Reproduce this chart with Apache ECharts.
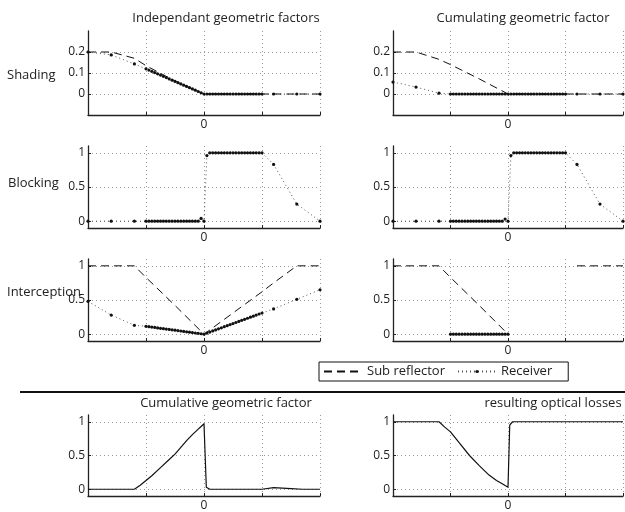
<!DOCTYPE html>
<html>
<head>
<meta charset="utf-8">
<script src="https://cdn.jsdelivr.net/npm/echarts@6/dist/echarts.min.js"></script>
<style>
  html, body { margin: 0; padding: 0; background: #fff; }
  #chart { width: 625px; height: 512px; }
</style>
</head>
<body>
<div id="chart"></div>
<script>
// sample positions of the receiver curves (sparse outside [-1,1])
const xPts = [-2, -1.6, -1.2,
  -1, -0.95, -0.9, -0.85, -0.8, -0.75, -0.7, -0.65, -0.6, -0.55, -0.5, -0.45, -0.4, -0.35, -0.3, -0.25, -0.2, -0.15, -0.1, -0.05, 0,
  0.05, 0.1, 0.15, 0.2, 0.25, 0.3, 0.35, 0.4, 0.45, 0.5, 0.55, 0.6, 0.65, 0.7, 0.75, 0.8, 0.85, 0.9, 0.95, 1,
  1.2, 1.6, 2];

const shadeRecvL = [0.2, 0.186, 0.143,
  0.12, 0.114, 0.108, 0.102, 0.096, 0.09, 0.084, 0.078, 0.072, 0.066, 0.06, 0.054, 0.048, 0.042, 0.036, 0.03, 0.024, 0.018, 0.012, 0.006, 0,
  0, 0, 0, 0, 0, 0, 0, 0, 0, 0, 0, 0, 0, 0, 0, 0, 0, 0, 0, 0,
  0, 0, 0];
const shadeRecvR = [0.057, 0.033, 0.004,
  0, 0, 0, 0, 0, 0, 0, 0, 0, 0, 0, 0, 0, 0, 0, 0, 0, 0, 0, 0, 0,
  0, 0, 0, 0, 0, 0, 0, 0, 0, 0, 0, 0, 0, 0, 0, 0, 0, 0, 0, 0,
  0, 0, 0];
const blockRecvL = [0, 0, 0,
  0, 0, 0, 0, 0, 0, 0, 0, 0, 0, 0, 0, 0, 0, 0, 0, 0, 0, 0, 0.04, 0,
  0.96, 1, 1, 1, 1, 1, 1, 1, 1, 1, 1, 1, 1, 1, 1, 1, 1, 1, 1, 1,
  0.83, 0.25, 0];
const blockRecvR = [0, 0, 0,
  0, 0, 0, 0, 0, 0, 0, 0, 0, 0, 0, 0, 0, 0, 0, 0, 0, 0, 0, 0.03, 0,
  0.96, 1, 1, 1, 1, 1, 1, 1, 1, 1, 1, 1, 1, 1, 1, 1, 1, 1, 1, 1,
  0.83, 0.25, 0];
const intRecvL = [0.48, 0.28, 0.13,
  0.115, 0.109, 0.104, 0.098, 0.092, 0.086, 0.081, 0.075, 0.069, 0.063, 0.058, 0.052, 0.046, 0.04, 0.035, 0.029, 0.023, 0.017, 0.012, 0.006, 0,
  0.016, 0.031, 0.047, 0.062, 0.078, 0.093, 0.109, 0.124, 0.14, 0.155, 0.171, 0.186, 0.202, 0.217, 0.233, 0.248, 0.264, 0.279, 0.295, 0.31,
  0.37, 0.51, 0.65];
const intRecvR = [null, null, null,
  0, 0, 0, 0, 0, 0, 0, 0, 0, 0, 0, 0, 0, 0, 0, 0, 0, 0, 0, 0, 0,
  null, null, null, null, null, null, null, null, null, null, null, null, null, null, null, null, null, null, null, null,
  null, null, null];

// sub reflector (dashed) curves
const subX = [-2, -1.6, -1.2, -1, -0.5, 0, 0.5, 1, 1.2, 1.6, 2];
const shadeSubL = [0.2, 0.2, 0.17, 0.135, 0.062, 0, 0, 0, 0, 0, 0];
const shadeSubR = [0.2, 0.2, 0.165, 0.14, 0.072, 0, 0, 0, 0, 0, 0];
const intSubL = [1, 1, 1, 0.83, 0.42, 0, 0.31, 0.62, 0.75, 1, 1];
const intSubR = [1, 1, 1, 0.83, 0.42, 0, null, null, 1, 1, 1];

// bottom row
const cumX = [-2, -1.2, -1.1, -1, -0.9, -0.75, -0.6, -0.5, -0.4, -0.3, -0.2, -0.1, -0.05, 0, 0.04, 0.1, 1, 1.2, 1.5, 1.7, 2];
const cumY = [0, 0, 0.06, 0.13, 0.2, 0.32, 0.44, 0.52, 0.62, 0.72, 0.81, 0.89, 0.93, 0.97, 0.03, 0, 0, 0.025, 0.01, 0, 0];
const lossX = [-2, -1.2, -1.1, -1, -0.85, -0.67, -0.5, -0.33, -0.2, -0.1, 0, 0.03, 0.08, 2];
const lossY = [1, 1, 0.92, 0.85, 0.69, 0.5, 0.35, 0.21, 0.13, 0.08, 0.03, 0.95, 1, 1];

const shadeTicks = [0, 0.1, 0.2];
const unitTicks = [0, 0.5, 1];
const xTicks = [-1, 0, 1, 2];
const xLabels = [0];

const font = '"Open Sans", "DejaVu Sans", sans-serif';
const pair = (xs, ys) => xs.map((x, i) => [x, ys[i]]);

const cols = [{ left: 88, width: 232 }, { left: 393, width: 230 }];
const rows = [
  { top: 31, height: 84, min: -0.1, max: 0.3, ticks: shadeTicks },
  { top: 146, height: 82, min: -0.1, max: 1.1, ticks: unitTicks },
  { top: 259, height: 82, min: -0.1, max: 1.1, ticks: unitTicks },
  { top: 415, height: 83, min: -0.1, max: 1.1, ticks: unitTicks }
];

const grid = [], xAxis = [], yAxis = [];
rows.forEach(r => {
  cols.forEach(c => {
    grid.push({ left: c.left, width: c.width, top: r.top, height: r.height });
    const i = grid.length - 1;
    xAxis.push({
      type: 'value', gridIndex: i, min: -2, max: 2,
      axisLine: { onZero: false, lineStyle: { color: '#222', width: 1.3 } },
      axisTick: { inside: true, length: 3, customValues: xTicks, lineStyle: { color: '#222' } },
      axisLabel: { customValues: xLabels, margin: 4, color: '#222', fontSize: 12, fontFamily: font },
      splitLine: { show: true, lineStyle: { color: '#999', width: 1, type: [1, 3] } }
    });
    yAxis.push({
      type: 'value', gridIndex: i, min: r.min, max: r.max,
      axisLine: { show: true, onZero: false, lineStyle: { color: '#222', width: 1.3 } },
      axisTick: { show: true, inside: true, length: 3, customValues: r.ticks, lineStyle: { color: '#222' } },
      axisLabel: { customValues: r.ticks, margin: 3, color: '#222', fontSize: 12, fontFamily: font },
      splitLine: { show: true, lineStyle: { color: '#999', width: 1, type: [1, 3] } }
    });
  });
});

function recv(i, ys) {
  return {
    type: 'line', name: 'Receiver', xAxisIndex: i, yAxisIndex: i,
    data: pair(xPts, ys), symbol: 'circle', symbolSize: 3.2, showSymbol: true,
    itemStyle: { color: '#111' },
    lineStyle: { color: '#555', width: 1, type: [1, 3] },
    animation: false, z: 3
  };
}
function sub(i, ys) {
  return {
    type: 'line', name: 'Sub reflector', xAxisIndex: i, yAxisIndex: i,
    data: pair(subX, ys), symbol: 'none',
    itemStyle: { color: '#111' },
    lineStyle: { color: '#111', width: 1, type: [8, 5] },
    animation: false, z: 2
  };
}
function solid(i, xs, ys) {
  return {
    type: 'line', xAxisIndex: i, yAxisIndex: i,
    data: pair(xs, ys), symbol: 'none',
    lineStyle: { color: '#111', width: 1.2 },
    animation: false
  };
}

const series = [
  sub(0, shadeSubL), recv(0, shadeRecvL),
  sub(1, shadeSubR), recv(1, shadeRecvR),
  recv(2, blockRecvL), recv(3, blockRecvR),
  sub(4, intSubL), recv(4, intRecvL),
  sub(5, intSubR), recv(5, intRecvR),
  solid(6, cumX, cumY), solid(7, lossX, lossY)
];

function txt(text, x, y, align) {
  return {
    type: 'text', x: x, y: y,
    style: { text: text, font: '13px ' + font, fill: '#222', textAlign: align || 'center', textVerticalAlign: 'middle' }
  };
}

const myChart = echarts.init(document.getElementById('chart'));
const option = {
  backgroundColor: '#fff',
  animation: false,
  grid: grid, xAxis: xAxis, yAxis: yAxis, series: series,
  legend: {
    data: [
      { name: 'Sub reflector', itemStyle: { color: 'rgba(0,0,0,0)', borderWidth: 0 } },
      { name: 'Receiver' }
    ],
    left: 319, top: 362,
    padding: [3, 16, 3, 4],
    itemWidth: 38, itemHeight: 4, itemGap: 12,
    borderColor: '#111', borderWidth: 1,
    textStyle: { color: '#222', fontSize: 13, fontFamily: font, lineHeight: 13 }
  },
  graphic: [
    txt('Independant geometric factors', 226, 18),
    txt('Cumulating geometric factor', 523, 18),
    txt('Cumulative geometric factor', 226, 403),
    txt('resulting optical losses', 553, 403),
    txt('Shading', 7, 75, 'left'),
    txt('Blocking', 8, 183, 'left'),
    txt('Interception', 7, 292, 'left'),
    { type: 'line', shape: { x1: 20, y1: 392, x2: 625, y2: 392 }, style: { stroke: '#111', lineWidth: 2 } }
  ]
};
option && myChart.setOption(option);
</script>
</body>
</html>
